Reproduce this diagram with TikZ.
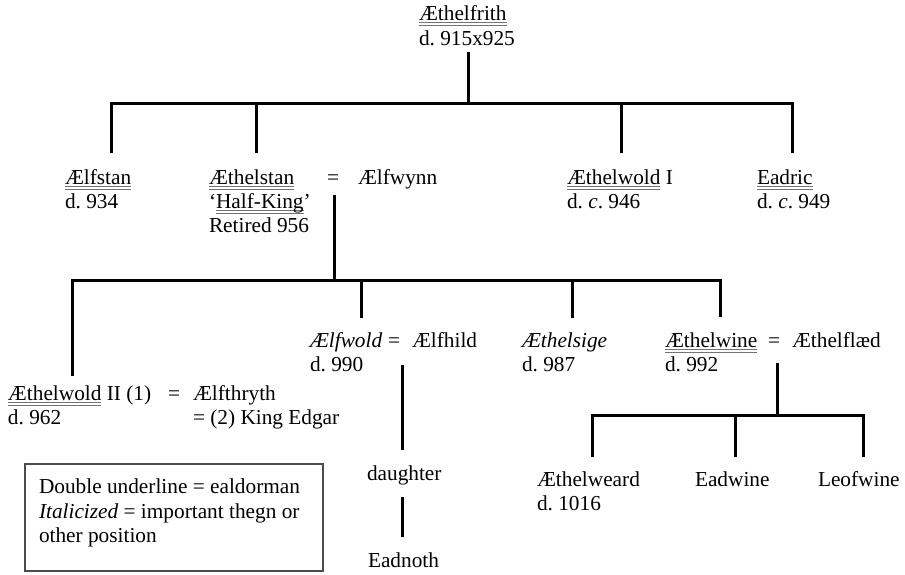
\documentclass[tikz,border=0pt]{standalone}
\usepackage{fontspec}
\setmainfont{Liberation Serif}
\frenchspacing
\newcommand\fs{\fontsize{21.3}{24}\selectfont}
\newcommand\dul[1]{\setbox0=\hbox{#1}\leavevmode\rlap{\color{black!55}\rule[-3.2pt]{\wd0}{0.9pt}}\rlap{\color{black!55}\rule[-5.4pt]{\wd0}{0.9pt}}\box0\relax}
\begin{document}
\begin{tikzpicture}[x=1pt,y=-1pt,
  lbl/.style={anchor=base west,inner sep=0pt,outer sep=0pt,font=\fs},
  conn/.style={line width=3pt},
  legendframe/.style={draw=black!70,line width=1.2pt,minimum width=298pt,minimum height=107pt,inner sep=0pt}]
\useasboundingbox (0,0) rectangle (905,574);
% top
\node[lbl] (fr) at (419,20) {\dul{Æthelfrith}};
\node[lbl] (frd) at (419,45) {d. 915x925};
% row 2
\node[lbl] (alfstan) at (65,184) {\dul{Ælfstan}};
\node[lbl] (alfstand) at (65,208) {d. 934};
\node[lbl] (ethstan) at (209,184) {\dul{Æthelstan}};
\node[lbl] (ethstanh) at (209,208) {‘\dul{Half-King}’};
\node[lbl] (ethstanr) at (209,232) {Retired 956};
\node[lbl] (eqa) at (327,184) {=};
\node[lbl] (alfwynn) at (358,184) {Ælfwynn};
\node[lbl] (ethwoldI) at (567,184) {\dul{Æthelwold} I};
\node[lbl] (ethwoldId) at (567,208) {d. \textit{c}. 946};
\node[lbl] (eadric) at (757,184) {\dul{Eadric}};
\node[lbl] (eadricd) at (757,208) {d. \textit{c}. 949};
% row 3
\node[lbl] (alfwold) at (310,347) {\textit{Ælfwold}};
\node[lbl] (alfwoldd) at (310,371) {d. 990};
\node[lbl] (eqb) at (388,347) {=};
\node[lbl] (alfhild) at (412,347) {Ælfhild};
\node[lbl] (ethsige) at (522,347) {\textit{Æthelsige}};
\node[lbl] (ethsiged) at (522,371) {d. 987};
\node[lbl] (ethwine) at (665,347) {\dul{Æthelwine}};
\node[lbl] (ethwined) at (665,371) {d. 992};
\node[lbl] (eqc) at (768,347) {=};
\node[lbl] (ethflaed) at (792,347) {Æthelflæd};
% Aethelwold II
\node[lbl] (ethwoldII) at (8,400) {\dul{Æthelwold} II (1)};
\node[lbl] (ethwoldIId) at (8,424) {d. 962};
\node[lbl] (eqd) at (168,400) {=};
\node[lbl] (alfthryth) at (193,400) {Ælfthryth};
\node[lbl] (edgar) at (193,424) {= (2) King Edgar};
% descendants
\node[lbl] (daughter) at (367,480) {daughter};
\node[lbl] (eadnoth) at (368,567) {Eadnoth};
\node[lbl] (ethweard) at (537,486) {Æthelweard};
\node[lbl] (ethweardd) at (537,510) {d. 1016};
\node[lbl] (eadwine) at (695,486) {Eadwine};
\node[lbl] (leofwine) at (818,486) {Leofwine};
% legend
\node[legendframe] (legend) at (174,517.5) {};
\node[lbl] (lega) at (39,493) {Double underline = ealdorman};
\node[lbl] (legb) at (39,518) {\textit{Italicized} = important thegn or};
\node[lbl] (legc) at (39,542) {other position};
% connector coordinates
\coordinate (frbot) at (468,52);
\coordinate (bA) at (468,103);
\coordinate (bAL) at (111,103);
\coordinate (bAR) at (792,103);
\coordinate (bA2) at (256,103);
\coordinate (bA3) at (621,103);
\coordinate (dA1) at (111,153);
\coordinate (dA2) at (256,153);
\coordinate (dA3) at (621,153);
\coordinate (dA4) at (792,153);
\coordinate (mA) at (334,195);
\coordinate (bB) at (334,280);
\coordinate (bBL) at (72,280);
\coordinate (bBR) at (720,280);
\coordinate (bB2) at (361,280);
\coordinate (bB3) at (572,280);
\coordinate (dB1) at (72,376);
\coordinate (dB2) at (361,318);
\coordinate (dB3) at (572,318);
\coordinate (dB4) at (720,317);
\coordinate (mB) at (402,365);
\coordinate (mBe) at (402,450);
\coordinate (dgA) at (402,497);
\coordinate (dgB) at (402,537);
\coordinate (mC) at (777,363);
\coordinate (bC) at (777,415);
\coordinate (bCL) at (592,415);
\coordinate (bCR) at (863,415);
\coordinate (bC2) at (735,415);
\coordinate (dC1) at (592,457);
\coordinate (dC2) at (735,457);
\coordinate (dC3) at (863,457);
% connectors
\draw[conn] (frbot) -- (bA);
\draw[conn] (dA1) -- (bAL) -- (bAR) -- (dA4);
\draw[conn] (bA2) -- (dA2);
\draw[conn] (bA3) -- (dA3);
\draw[conn] (mA) -- (bB);
\draw[conn] (dB1) -- (bBL) -- (bBR) -- (dB4);
\draw[conn] (bB2) -- (dB2);
\draw[conn] (bB3) -- (dB3);
\draw[conn] (mB) -- (mBe);
\draw[conn] (dgA) -- (dgB);
\draw[conn] (mC) -- (bC);
\draw[conn] (dC1) -- (bCL) -- (bCR) -- (dC3);
\draw[conn] (bC2) -- (dC2);
\end{tikzpicture}
\end{document}
